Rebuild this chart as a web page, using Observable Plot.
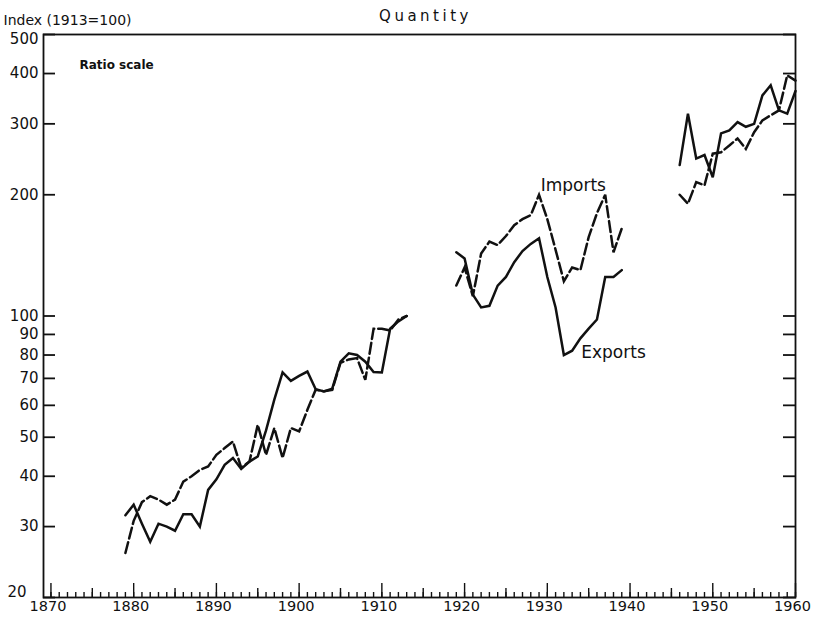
<!DOCTYPE html>
<html><head><meta charset="utf-8">
<script src="https://cdn.jsdelivr.net/npm/d3@7"></script>
<script src="https://cdn.jsdelivr.net/npm/@observablehq/plot@0.6"></script>
<style>body{margin:0;background:#fff;}</style>
</head><body><div id="chart"></div>
<script>
// ---- data (index 1913 = 100, ratio scale) ----
const years1 = d3.range(1879, 1914);
const exports1 = [32,34,30.5,27.5,30.5,30,29.3,32.2,32.2,30,37,39.3,42.7,44.4,41.7,43.5,44.8,52,62,72.4,69,71,72.8,65.8,65,66,77,80.8,80,77,72.6,72.4,93,97,100];
const imports1 = [25.8,31,34.5,35.7,35,34,35,38.8,40,41.5,42.3,45.2,47,48.8,42,43.5,53.7,45.2,52.7,44.4,52.7,51.7,58.5,65.6,65,65.5,76.5,78,78.6,69.4,93,93,92,98,100];
const years2 = d3.range(1919, 1940);
const exports2 = [144,139,113,105,106,119,125,136,145,151,156,125,105,80,82,88,93,98,125,125,130];
const imports2 = [119,132,112,143,153,150,158,168,174,178,200,174,146,122,132,130,157,180,200,144,165];
const years3 = d3.range(1946, 1961);
const exports3 = [237,318,246,251,221,284,289,303,295,300,353,374,324,318,362];
const imports3 = [200,190,215,211,253,255,265,276,260,286,306,315,324,396,384];

const yTicks = [20,30,40,50,60,70,80,90,100,200,300,400,500];
const yLabelTicks = [30,40,50,60,70,80,90,100,200,300,400];
const yTopLabel = [500];
const yBottomLabel = [20];
const decadeTicks = d3.range(1870, 1961, 10);
const fiveTicks = d3.range(1875, 1960, 10);
const yearTicks = d3.range(1870, 1961, 1);

const seriesLabels = [
  {text: "Imports", year: 1929.2, value: 211},
  {text: "Exports", year: 1934.1, value: 81}
];

function rows(years, vals, series, period) {
  return years.map((y, i) => ({year: y, value: vals[i], series, period}));
}
const exportRows = [...rows(years1, exports1, "Exports", 1), ...rows(years2, exports2, "Exports", 2), ...rows(years3, exports3, "Exports", 3)];
const importRows = [...rows(years1, imports1, "Imports", 1), ...rows(years2, imports2, "Imports", 2), ...rows(years3, imports3, "Imports", 3)];

const ink = "#111";
const chart = Plot.plot({
  width: 813, height: 627,
  marginLeft: 43, marginRight: 18, marginTop: 34, marginBottom: 30,
  style: {fontFamily: "DejaVu Sans", fontSize: "14px", color: ink, background: "#fff"},
  x: {domain: [1869.1, 1960]},
  y: {type: "log", domain: [20, 500]},
  marks: [
    Plot.frame({stroke: ink, strokeWidth: 1.8}),
    Plot.axisY(yLabelTicks, {anchor: "left", tickSize: 0, tickPadding: 5, tickFormat: d => String(d), label: null, fontSize: 15}),
    Plot.axisY(yTopLabel, {anchor: "left", tickSize: 0, tickPadding: 5, dy: 5, tickFormat: d => String(d), label: null, fontSize: 15}),
    Plot.axisY(yBottomLabel, {anchor: "left", tickSize: 0, tickPadding: 17, dy: -5, tickFormat: d => String(d), label: null, fontSize: 15}),
    Plot.axisY(yTicks, {anchor: "left", tickSize: -12, fill: "none", label: null, strokeWidth: 1.8}),
    Plot.axisY(yTicks, {anchor: "right", tickSize: -13, fill: "none", label: null, strokeWidth: 1.8}),
    Plot.axisX(decadeTicks, {anchor: "bottom", tickSize: 0, tickPadding: 3, dx: -3, tickFormat: d => String(d), label: null, fontSize: 14.5}),
    Plot.axisX(yearTicks, {anchor: "bottom", tickSize: -5, fill: "none", label: null, strokeWidth: 1.4}),
    Plot.axisX(fiveTicks, {anchor: "bottom", tickSize: -9, fill: "none", label: null, strokeWidth: 1.4}),
    Plot.axisX(decadeTicks, {anchor: "bottom", tickSize: -14, fill: "none", label: null, strokeWidth: 1.4}),
    Plot.line(exportRows, {x: "year", y: "value", z: "period", stroke: ink, strokeWidth: 2.5, strokeLinejoin: "miter", strokeMiterlimit: 3}),
    Plot.line(importRows, {x: "year", y: "value", z: "period", stroke: ink, strokeWidth: 2.5, strokeDasharray: "11,4", strokeLinejoin: "miter", strokeMiterlimit: 3}),
    Plot.text(seriesLabels, {x: "year", y: "value", text: "text", textAnchor: "start", lineAnchor: "middle", fontSize: 17, fill: ink}),
    Plot.text(["Quantity"], {frameAnchor: "top", dy: -18, dx: 6, lineAnchor: "middle", fontSize: 15, fill: ink}),
    Plot.text(["Index (1913=100)"], {frameAnchor: "top-left", dx: -40, dy: -10, textAnchor: "start", lineAnchor: "bottom", fontSize: 14, fill: ink}),
    Plot.text(["Ratio scale"], {frameAnchor: "top-left", dx: 36, dy: 31, textAnchor: "start", lineAnchor: "middle", fontSize: 12, fontWeight: "bold", fill: ink})
  ]
});
d3.select(chart).selectAll("text").filter(function() { return this.textContent === "Quantity"; }).style("letter-spacing", "3.5px");
document.getElementById("chart").appendChild(chart);
</script>
</body></html>
